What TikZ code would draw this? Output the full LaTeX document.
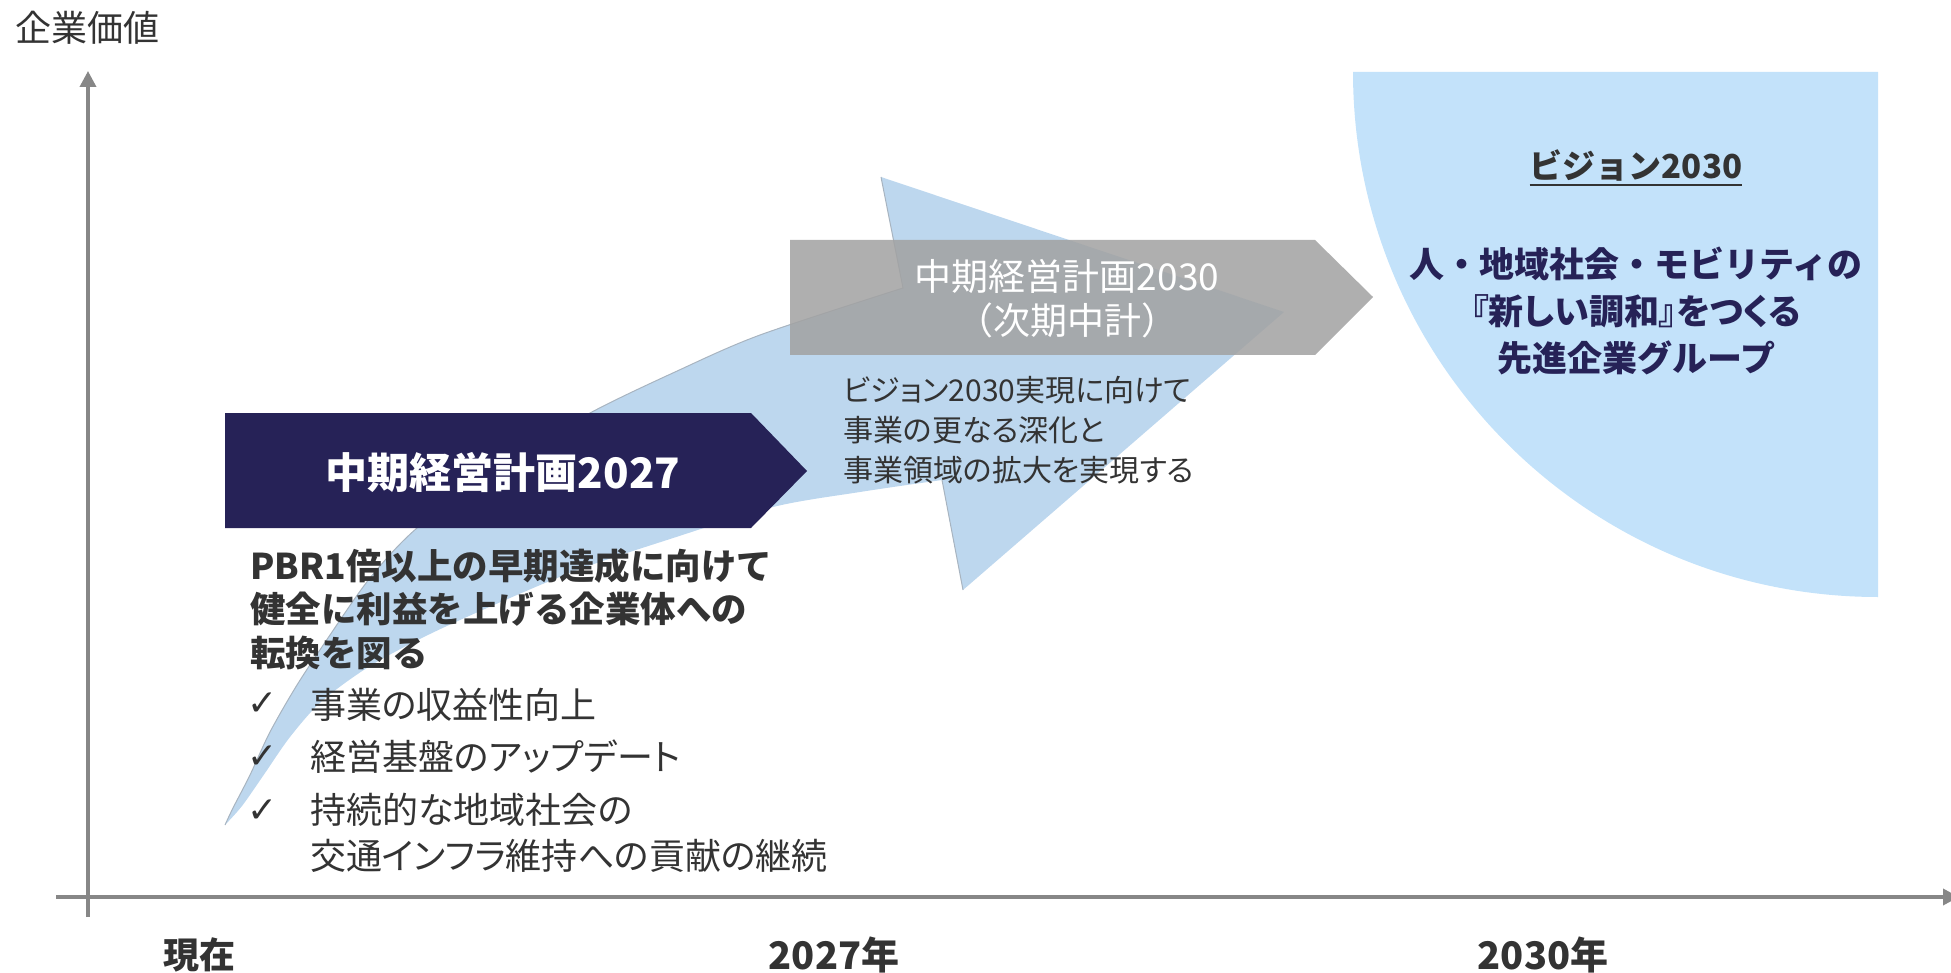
\documentclass[tikz,border=0pt]{standalone}
\usepackage{fontspec}
\setmainfont{Noto Sans CJK JP}
\newfontfamily\pfont{Noto Sans CJK JP}[RawFeature={+palt}]
\newfontfamily\symfont{DejaVu Sans}
\usetikzlibrary{arrows.meta}
\definecolor{navy}{HTML}{262257}
\definecolor{swoosh}{HTML}{BDD7EE}
\definecolor{visionblue}{HTML}{C3E2FA}
\definecolor{chevgray}{HTML}{A2A2A2}
\definecolor{txt}{HTML}{333333}
\definecolor{axisgray}{HTML}{878787}
\definecolor{shadowgray}{HTML}{A8B4C0}
\begin{document}
\begin{tikzpicture}[x=1pt,y=-1pt,
  axisline/.style={draw=axisgray, line width=3.5pt, -{Triangle[length=16pt,width=16pt]}},
  lbl/.style={text=txt, inner sep=0pt},
  boldlbl/.style={lbl, font=\bfseries\fontsize{36}{40}\selectfont},
  itemtext/.style={lbl, anchor=west, align=left, font=\pfont\fontsize{36}{46}\selectfont},
  chk/.style={lbl, font=\symfont\bfseries\fontsize{36}{38}\selectfont},
  edge/.style={draw=shadowgray, line width=1pt}]
\useasboundingbox (0,0) rectangle (1951,973);

% vision quarter circle
\fill[visionblue] (1353,72) .. controls (1353,362) and (1588,597) .. (1878,597) -- (1878,72) -- cycle;

% swoosh arrow
\fill[swoosh] plot[smooth] coordinates {(225,825) (233,808) (250,775) (270,732) (297,685) (330,635) (370,578) (417,528) (500,466) (590,413) (675,372) (760,335) (903,288)}
  -- (881,177) -- (1284,312) -- (963,590)
  -- plot[smooth] coordinates {(942,480) (860,492) (773,507) (667,540) (580,569) (503,601) (430,634) (370,666) (322,701) (290,737) (263,776) (242,806) (225,825)} -- cycle;
\draw[edge] plot[smooth] coordinates {(225,825) (233,808) (250,775) (270,732) (297,685) (330,635) (370,578) (417,528) (500,466) (590,413) (675,372) (760,335) (903,288)} -- (881,177);
\draw[edge] (963,590) -- (942,480);

% chevrons
\fill[navy] (225,413) -- (751,413) -- (807,471) -- (751,528) -- (225,528) -- cycle;
\fill[chevgray, fill opacity=0.86] (790,240) -- (1315,240) -- (1373,297) -- (1315,355) -- (790,355) -- cycle;

% axes
\coordinate (ybot) at (88,917);
\coordinate (ytop) at (88,71);
\coordinate (xleft) at (56,897);
\coordinate (xright) at (1959,897);
\draw[axisline] (ybot) -- (ytop);
\draw[axisline] (xleft) -- (xright);

% labels
\node[lbl, font=\fontsize{36}{40}\selectfont] (ylabel) at (88,28) {企業価値};
\node[boldlbl] (now) at (199,955) {現在};
\node[boldlbl, font=\bfseries\fontsize{38}{40}\selectfont] (y2027) at (834,955) {2027年};
\node[boldlbl, font=\bfseries\fontsize{38}{40}\selectfont] (y2030) at (1543,955) {2030年};

\node[lbl, text=white, font=\bfseries\fontsize{42}{50}\selectfont] (plan27) at (503,472) {中期経営計画2027};
\node[lbl, text=white, align=center, font=\fontsize{37}{44}\selectfont] (plan30) at (1067,299) {中期経営計画2030\\（次期中計）};
\node[lbl, anchor=west, align=left, font=\pfont\fontsize{30}{40}\selectfont] (sub30) at (843,430) {ビジョン2030実現に向けて\\事業の更なる深化と\\事業領域の拡大を実現する};

\node[lbl, anchor=west, align=left, font=\bfseries\fontsize{35.5}{43.5}\selectfont] (goal) at (250,609) {PBR1倍以上の早期達成に向けて\\健全に利益を上げる企業体への\\転換を図る};

\node[chk] (c1) at (263,704) {✓};
\node[chk] (c2) at (263,757) {✓};
\node[chk] (c3) at (263,811) {✓};
\node[itemtext] (i1) at (310,705) {事業の収益性向上};
\node[itemtext] (i2) at (310,757) {経営基盤のアップデート};
\node[itemtext] (i3) at (310,833) {持続的な地域社会の\\交通インフラ維持への貢献の継続};

\node[lbl, font=\bfseries\fontsize{33}{40}\selectfont] (vtitle) at (1636,166) {ビジョン2030};
\draw[txt, line width=2pt] ([yshift=-3pt]vtitle.south west) -- ([yshift=-3pt]vtitle.south east);
\node[lbl, text=navy, align=center, font=\bfseries\fontsize{35}{47}\selectfont] (vbody) at (1636,311) {人・地域社会・モビリティの\\{\pfont\bfseries 『新しい調和』をつくる}\\先進企業グループ};
\end{tikzpicture}
\end{document}
